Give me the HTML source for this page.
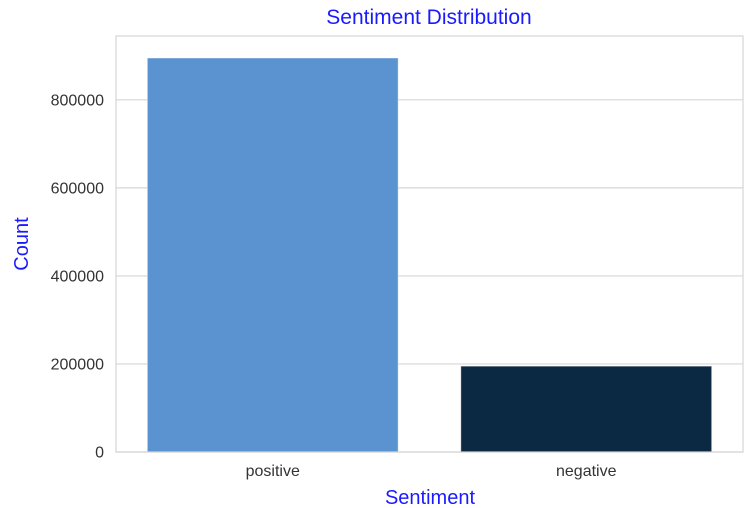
<!DOCTYPE html>
<html><head><meta charset="utf-8"><style>
body{margin:0;background:#fff;}
svg{display:block;font-family:"Liberation Sans",Arial,sans-serif;}
</style></head><body>
<svg id="chart" width="748" height="508" viewBox="0 0 748 508" xmlns="http://www.w3.org/2000/svg">
<rect x="0" y="0" width="748" height="508" fill="#fff"/>
<g id="grid"></g>
<g id="bars"></g>
<rect x="116" y="36" width="627" height="416" fill="none" stroke="#d6d6d6" stroke-width="1.2"/>
<g id="yticks"></g>
<g id="xticks"></g>
<text x="429" y="24" text-anchor="middle" font-size="21" fill="#1a1aff">Sentiment Distribution</text>
<text transform="translate(28,244) rotate(-90)" text-anchor="middle" font-size="20" fill="#1a1aff">Count</text>
<text x="430" y="504" text-anchor="middle" font-size="20" fill="#1a1aff">Sentiment</text>
</svg>
<script>
const categories = ["positive", "negative"];
const counts = [895000, 195000];
const barColors = ["#5b93d1", "#0c2944"];
const yTicks = [0, 200000, 400000, 600000, 800000];

const NS = "http://www.w3.org/2000/svg";
const L = 116, R = 743, T = 36, B = 452;
const yMax = 945000;
function y(v){ return B - v / yMax * (B - T); }
const band = (R - L) / categories.length;
function xc(i){ return L + band * (i + 0.5); }
const bw = band * 0.8;

const grid = document.getElementById('grid');
const yt = document.getElementById('yticks');
yTicks.forEach(v => {
  const ln = document.createElementNS(NS, 'line');
  
  
  ln.setAttribute('x1', L); ln.setAttribute('x2', R);
  ln.setAttribute('y1', y(v)); ln.setAttribute('y2', y(v));
  ln.setAttribute('stroke', '#d6d6d6'); ln.setAttribute('stroke-width', '1.2');
  grid.appendChild(ln);
  const t = document.createElementNS(NS, 'text');
  
  
  t.setAttribute('x', L - 12); t.setAttribute('y', y(v) + 5.5);
  t.setAttribute('text-anchor', 'end'); t.setAttribute('font-size', '16'); t.setAttribute('fill', '#333');
  t.textContent = String(v);
  yt.appendChild(t);
});
const bars = document.getElementById('bars');
const xt = document.getElementById('xticks');
categories.forEach((c, i) => {
  const r = document.createElementNS(NS, 'rect');
  
  
  r.setAttribute('x', xc(i) - bw / 2); r.setAttribute('width', bw);
  r.setAttribute('y', y(counts[i])); r.setAttribute('height', B - y(counts[i]));
  r.setAttribute('fill', barColors[i]); r.setAttribute('stroke', 'rgba(255,255,255,0.4)');
  bars.appendChild(r);
  const t = document.createElementNS(NS, 'text');
  
  
  t.setAttribute('x', xc(i)); t.setAttribute('y', 476);
  t.setAttribute('text-anchor', 'middle'); t.setAttribute('font-size', '16'); t.setAttribute('fill', '#333');
  t.textContent = c;
  xt.appendChild(t);
});
</script>
</body></html>
